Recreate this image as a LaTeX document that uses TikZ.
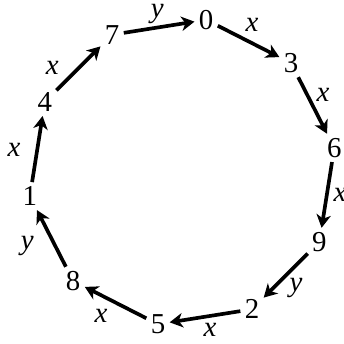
\documentclass[tikz,border=0pt]{standalone}
\usepackage{fontspec}
\setmainfont{Liberation Serif}
\usetikzlibrary{arrows.meta}

\begin{document}
\begin{tikzpicture}[
   ringnode/.style={inner sep=1.5pt,font=\fontsize{11}{13}\selectfont},
   ringedge/.style={-{Stealth[length=5pt,width=5.5pt,inset=1.5pt]},line width=1.4pt},
   edgelab/.style={font=\fontsize{11}{13}\selectfont\itshape,inner sep=0.5pt}]
  \useasboundingbox (-2.44,-2.305) rectangle (2.157,2.305);
  % ring of residues, clockwise from the top
  \foreach \n [count=\i from 0] in {0,3,6,9,2,5,8,1,4,7}{
    \node[ringnode] (v\n) at ({81-36*\i}:2.065) {\n};
  }
  % steps, with the generator written just outside the ring
  \foreach \a/\b/\l/\t/\r in {0/3/x/64.5/2.18,3/6/x/28.6/2.15,6/9/x/-8.3/2.14,
      9/2/y/-45.5/2.18,2/5/x/-80/2.15,5/8/x/-119.4/2.21,8/1/y/-154.5/2.3,
      1/4/x/172.5/2.27,4/7/x/141.3/2.23,7/0/y/98.9/2.14}{
    \draw[ringedge] (v\a) -- (v\b);
    \node[edgelab] (lab\a) at (\t:\r) {\l};
  }
\end{tikzpicture}
\end{document}
